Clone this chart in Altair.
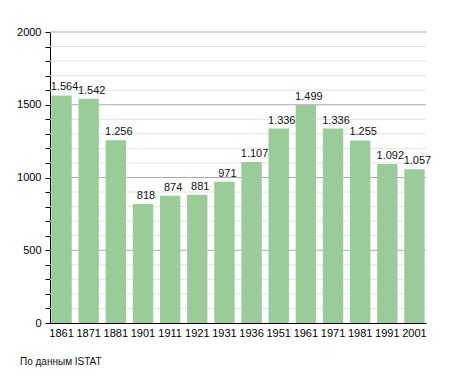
import altair as alt
import pandas as pd

years = ["1861", "1871", "1881", "1901", "1911", "1921", "1931", "1936",
         "1951", "1961", "1971", "1981", "1991", "2001"]
population = [1564, 1542, 1256, 818, 874, 881, 971, 1107,
              1336, 1499, 1336, 1255, 1092, 1057]
labels = ["1.564", "1.542", "1.256", "818", "874", "881", "971", "1.107",
          "1.336", "1.499", "1.336", "1.255", "1.092", "1.057"]
grid_values = list(range(100, 2001, 100))
source_note = "По данным  ISTAT"

df = pd.DataFrame({"year": years, "pop": population, "label": labels})
grid_df = pd.DataFrame({"g": grid_values, "major": [v % 500 == 0 for v in grid_values]})

FONT = "Liberation Sans"

yscale = alt.Scale(domain=[0, 2000], nice=False)
yaxis = alt.Axis(values=list(range(0, 2001, 100)),
                 labelExpr="datum.value % 500 === 0 ? datum.value : ''",
                 labelOverlap=False,
                 format="d", grid=False,
                 domainColor="#000", tickColor="#000", tickSize=5,
                 labelFont=FONT, labelFontSize=11, labelColor="#000",
                 labelPadding=4)

x = alt.X("year:N", sort=years, title=None,
          scale=alt.Scale(paddingInner=0.25, paddingOuter=0.05),
          axis=alt.Axis(labelAngle=0, ticks=False, domain=True, domainColor="#000",
                        labelFont=FONT, labelFontSize=11, labelColor="#000",
                        labelPadding=4))

grid = alt.Chart(grid_df).mark_rule(strokeWidth=1).encode(
    y=alt.Y("g:Q", scale=yscale, axis=yaxis, title=None),
    color=alt.Color("major:N", scale=alt.Scale(domain=[True, False], range=["#aaaaaa", "#e2e2e2"]),
                    legend=None),
)
bars = alt.Chart(df).mark_bar(color="#99cc99").encode(
    x=x, y=alt.Y("pop:Q", scale=yscale, axis=yaxis, title=None))
text = alt.Chart(df).mark_text(baseline="bottom", dy=-3, dx=3, font=FONT, fontSize=11,
                               color="#111").encode(
    x=alt.X("year:N", sort=years), y=alt.Y("pop:Q", scale=yscale, axis=yaxis, title=None), text="label:N")
note = alt.Chart(pd.DataFrame({"t": [source_note]})).mark_text(
    align="left", baseline="middle", font=FONT, fontSize=10, color="#111"
).encode(x=alt.value(-30), y=alt.value(330), text="t:N")

chart = alt.layer(grid, bars, text, note).properties(
    width=376, height=291,
    autosize=alt.AutoSizeParams(type="none"),
    padding={"left": 42, "top": 24, "right": 21, "bottom": 50},
).configure_view(stroke=None)

chart.save("out.html", embed_options={"renderer": "svg", "actions": False})
